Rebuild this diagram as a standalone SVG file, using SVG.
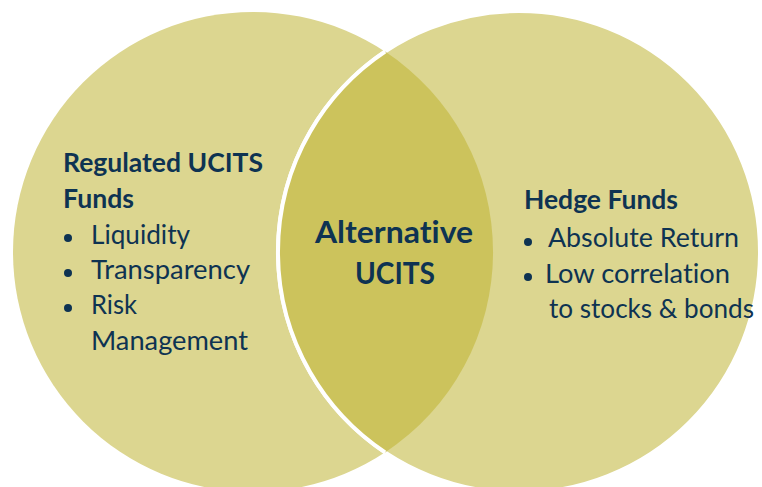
<svg xmlns="http://www.w3.org/2000/svg" width="762" height="487" viewBox="0 0 762 487">
  <style>
    .circ { fill: #DCD690; }
    .lens { fill: #CCC35C; }
    .t { font-family: Lato, "Liberation Sans", sans-serif; fill: #0E3352; font-variant-ligatures: none; }
    .b { font-weight: bold; }
    .side { font-size: 27.5px; }
    .mid { font-size: 31px; }
    .dot { fill: #0E3352; }
  </style>
  <rect width="762" height="487" fill="#FFFFFF"/>
  <g id="regulated-ucits">
    <circle class="circ" cx="253" cy="252" r="240"/>
  </g>
  <g id="hedge-funds">
    <circle class="circ" cx="519" cy="252" r="241" stroke="#FFFFFF" stroke-width="4"/>
  </g>
  <g id="alternative-ucits">
    <path class="lens" d="M385.1,51.6 A241,241 0 0,0 385.1,452.4 A240,240 0 0,0 385.1,51.6 Z"/>
    <path d="M385.1,51.6 A241,241 0 0,0 385.1,452.4" fill="none" stroke="#FFFFFF" stroke-width="4"/>
  </g>
  <g id="connectors"></g>
  <g id="regulated-ucits-text">
    <text class="t b side" x="63" y="172" textLength="200" lengthAdjust="spacingAndGlyphs">Regulated UCITS</text>
    <text class="t b side" x="63" y="208" textLength="71" lengthAdjust="spacingAndGlyphs">Funds</text>
    <circle class="dot" cx="68" cy="238" r="4"/>
    <text class="t side" x="91" y="244" textLength="99" lengthAdjust="spacingAndGlyphs">Liquidity</text>
    <circle class="dot" cx="68" cy="273" r="4"/>
    <text class="t side" x="91" y="279" textLength="159" lengthAdjust="spacingAndGlyphs">Transparency</text>
    <circle class="dot" cx="68" cy="308" r="4"/>
    <text class="t side" x="91" y="314" textLength="46" lengthAdjust="spacingAndGlyphs">Risk</text>
    <text class="t side" x="91" y="350" textLength="157" lengthAdjust="spacingAndGlyphs">Management</text>
  </g>
  <g id="alternative-ucits-text">
    <text class="t b mid" x="315" y="243" textLength="158" lengthAdjust="spacingAndGlyphs">Alternative</text>
    <text class="t b mid" x="355" y="284" textLength="80" lengthAdjust="spacingAndGlyphs">UCITS</text>
  </g>
  <g id="hedge-funds-text">
    <text class="t b side" x="524" y="209" textLength="154" lengthAdjust="spacingAndGlyphs">Hedge Funds</text>
    <circle class="dot" cx="528" cy="242" r="4"/>
    <text class="t side" x="548" y="247" textLength="191" lengthAdjust="spacingAndGlyphs">Absolute Return</text>
    <circle class="dot" cx="528" cy="277" r="4"/>
    <text class="t side" x="545" y="283" textLength="185" lengthAdjust="spacingAndGlyphs">Low correlation</text>
    <text class="t side" x="549" y="318" textLength="205" lengthAdjust="spacingAndGlyphs">to stocks &amp; bonds</text>
  </g>
</svg>
